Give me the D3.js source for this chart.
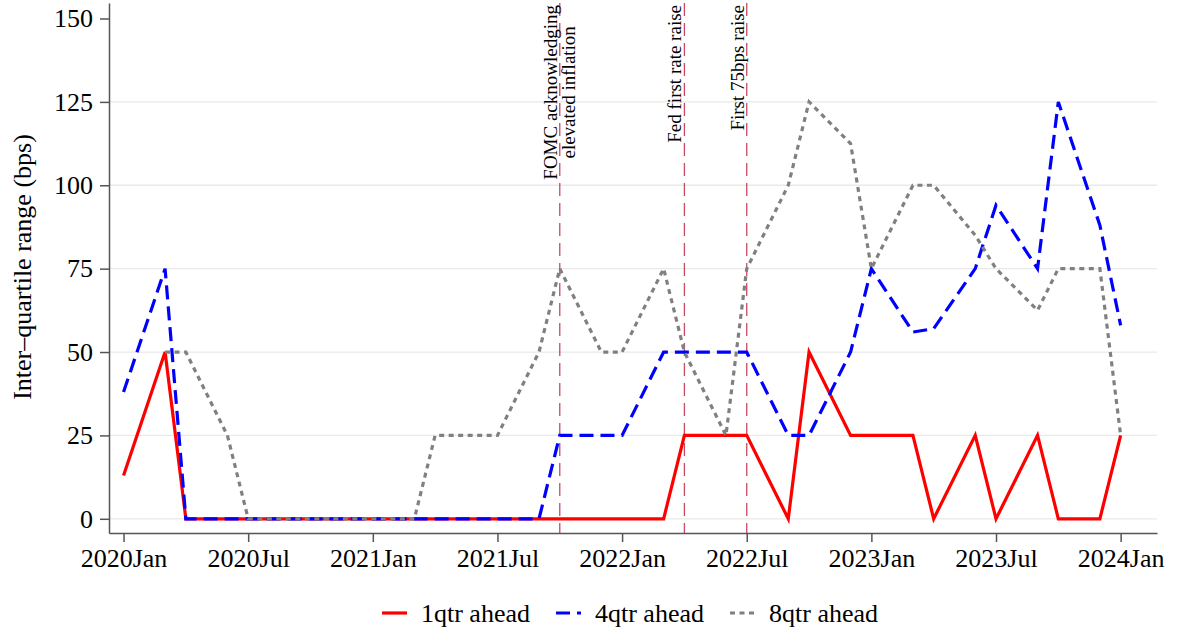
<!DOCTYPE html>
<html>
<head>
<meta charset="utf-8">
<script src="https://cdn.jsdelivr.net/npm/d3@7"></script>
<style>
body { margin: 0; background: #fff; }
svg { font-family: "Liberation Serif", "Times New Roman", serif; }
</style>
</head>
<body>
<script>
var w = 1178;
var h = 632;

// meeting months (x values)
var months = ["2020-01","2020-03","2020-04","2020-06","2020-07","2020-09","2020-10","2020-12",
              "2021-01","2021-03","2021-04","2021-06","2021-07","2021-09","2021-10","2021-12",
              "2022-01","2022-03","2022-04","2022-06","2022-07","2022-09","2022-10","2022-12",
              "2023-01","2023-03","2023-04","2023-06","2023-07","2023-09","2023-10","2023-12",
              "2024-01"];

// inter-quartile range, bps
var q1 = [13,50,0,0,0,0,0,0, 0,0,0,0,0,0,0,0, 0,0,25,25,25,0,50,25, 25,25,0,25,0,25,0,0, 25];
var q4 = [38,75,0,0,0,0,0,0, 0,0,0,0,0,0,25,25, 25,50,50,50,50,25,25,50, 75,56,57,75,94,75,125,88, 58];
var q8 = [null,50,50,25,0,0,0,0, 0,0,25,25,25,50,75,50, 50,75,50,25,75,100,125,112.5, 75,100,100,85,75,62.5,75,75, 25];

var seriesNames = ["1qtr ahead", "4qtr ahead", "8qtr ahead"];

var xTickMonths = ["2020-01","2020-07","2021-01","2021-07","2022-01","2022-07","2023-01","2023-07","2024-01"];
var xTickLabels = ["2020Jan","2020Jul","2021Jan","2021Jul","2022Jan","2022Jul","2023Jan","2023Jul","2024Jan"];
var yTicks = [0, 25, 50, 75, 100, 125, 150];

var eventMonths = ["2021-10", "2022-04", "2022-07"];
var eventLabels = [["FOMC acknowledging", "elevated inflation"], ["Fed first rate raise"], ["First 75bps raise"]];

function monthIndex(s) {
    var p = s.split("-");
    return (+p[0] - 2020) * 12 + (+p[1] - 1);
}

var svg = d3.select("body")
    .append("svg")
    .attr("width", w)
    .attr("height", h);

var plotL = 109, plotR = 1157, plotT = 3, plotB = 533;

var xScale = d3.scaleLinear()
    .domain([-0.7, 49.75])
    .range([plotL, plotR]);

var yScale = d3.scaleLinear()
    .domain([-4.26, 154.65])
    .range([plotB, plotT]);

//gridlines
svg.append("g")
    .selectAll("line")
    .data(yTicks.filter(d => d < 150))
    .enter()
    .append("line")
    .attr("x1", plotL)
    .attr("x2", plotR)
    .attr("y1", d => yScale(d))
    .attr("y2", d => yScale(d))
    .attr("stroke", "#e9e9e9")
    .attr("stroke-width", 1.3);

//event lines
svg.append("g")
    .selectAll("line")
    .data(eventMonths)
    .enter()
    .append("line")
    .attr("x1", d => xScale(monthIndex(d)))
    .attr("x2", d => xScale(monthIndex(d)))
    .attr("y1", plotT)
    .attr("y2", plotB)
    .attr("stroke", "#c84a62")
    .attr("stroke-width", 1.3)
    .attr("stroke-dasharray", "13,7");

//event labels
eventMonths.forEach(function(m, i) {
    var x = xScale(monthIndex(m));
    var lines = eventLabels[i];
    var g = svg.append("g")
        .attr("transform", "translate(" + (x - 3) + ",5) rotate(-90)")
        .attr("font-size", 19);
    var texts = g.selectAll("text")
        .data(lines)
        .enter()
        .append("text")
        .attr("y", (d, j) => j * 18.5)
        .text(d => d);
    var maxLen = d3.max(texts.nodes(), n => n.getComputedTextLength());
    texts.attr("text-anchor", "middle")
        .attr("x", -maxLen / 2);
});

//lines
var line = d3.line()
    .defined(d => d.v != null)
    .x(d => xScale(monthIndex(d.m)))
    .y(d => yScale(d.v));

var styles = [
    { color: "#ff0000", dash: null },
    { color: "#0000ff", dash: "14,7" },
    { color: "#808080", dash: "5,4.5" }
];

[q1, q4, q8].forEach(function(vals, i) {
    var data = months.map((m, j) => ({ m: m, v: vals[j] }));
    svg.append("path")
        .datum(data)
        .attr("fill", "none")
        .attr("stroke", styles[i].color)
        .attr("stroke-width", 3.2)
        .attr("stroke-dasharray", styles[i].dash)
        .attr("d", line);
});

//axes
var xAxis = d3.axisBottom(xScale)
    .tickValues(xTickMonths.map(monthIndex))
    .tickFormat((d, i) => xTickLabels[i])
    .tickSizeInner(9)
    .tickSizeOuter(0)
    .tickPadding(7);

var yAxis = d3.axisLeft(yScale)
    .tickValues(yTicks)
    .tickSizeInner(9)
    .tickSizeOuter(0)
    .tickPadding(7);

var gx = svg.append("g")
    .attr("transform", "translate(0," + plotB + ")")
    .call(xAxis);

var gy = svg.append("g")
    .attr("transform", "translate(" + plotL + ",0)")
    .call(yAxis);

[gx, gy].forEach(function(g) {
    g.selectAll("path, line").attr("stroke", "#555").attr("stroke-width", 1.5);
    g.selectAll("text")
        .attr("font-family", "Liberation Serif, Times New Roman, serif")
        .attr("font-size", 26)
        .attr("fill", "#000");
});

//y axis title
svg.append("text")
    .text("Inter\u2013quartile range (bps)")
    .attr("transform", "translate(31,267) rotate(-90)")
    .attr("text-anchor", "middle")
    .attr("font-size", 26);

//legend
var legend = svg.append("g")
    .attr("font-size", 26);

var lx = 0;
seriesNames.forEach(function(name, i) {
    var item = legend.append("g").attr("transform", "translate(" + lx + ",0)");
    item.append("line")
        .attr("x1", 0)
        .attr("x2", 25)
        .attr("y1", 613)
        .attr("y2", 613)
        .attr("stroke", styles[i].color)
        .attr("stroke-width", 3.2)
        .attr("stroke-dasharray", styles[i].dash);
    var t = item.append("text")
        .attr("x", 39)
        .attr("y", 622)
        .text(name);
    lx += 39 + t.node().getComputedTextLength() + 26;
});
var legendW = lx - 26;
legend.attr("transform", "translate(" + (630 - legendW / 2) + ",0)");
</script>
</body>
</html>
